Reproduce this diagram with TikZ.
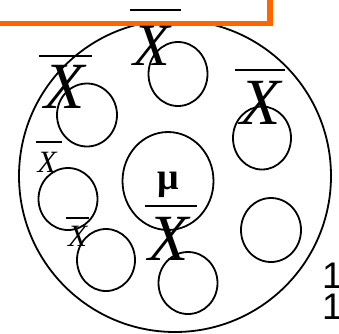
\documentclass[tikz,border=0pt]{standalone}
\usepackage{fontspec}
\usetikzlibrary{shapes.geometric}
\setmainfont{Liberation Serif}
\newfontfamily\arialfont{Liberation Sans}
\definecolor{frameorange}{RGB}{255,102,0}
\begin{document}
\begin{tikzpicture}[x=1pt,y=-1pt,
  ring/.style={draw=black,line width=1.8pt},
  sample/.style={ring,ellipse,inner sep=0pt},
  bigx/.style={inner sep=0pt,font=\fontsize{66}{66}\selectfont\itshape},
  smallx/.style={inner sep=0pt,font=\fontsize{31}{31}\selectfont\itshape},
  barthick/.style={line width=2.8pt},
  barthin/.style={line width=1.2pt},
  digit/.style={inner sep=0pt,font=\arialfont\fontsize{37}{37}\selectfont}]
\useasboundingbox (0,0) rectangle (339,333);
% population circle
\draw[ring] (175,176) circle [radius=156];
% orange frame
\draw[frameorange,fill=white,line width=5.5pt] (-20,-20) rectangle (270,23.5);
% samples
\node[sample,minimum width=59pt,minimum height=64pt] (s1) at (178,74) {};
\node[sample,minimum width=60pt,minimum height=63pt] (s2) at (87,115) {};
\node[sample,minimum width=58pt,minimum height=63pt] (s3) at (262,138) {};
\node[sample,minimum width=59pt,minimum height=62pt] (s4) at (68,199) {};
\node[sample,minimum width=91pt,minimum height=98pt] (s5) at (168,181) {};
\node[sample,minimum width=58pt,minimum height=62pt] (s6) at (106,260) {};
\node[sample,minimum width=59pt,minimum height=62pt] (s7) at (188,283) {};
\node[sample,minimum width=60pt,minimum height=64pt] (s8) at (271,230) {};
% overlines
\draw[barthick] (130,10) -- (181,10);
\draw[barthick] (39,56) -- (92,56);
\draw[barthick] (235,70) -- (285,70);
\draw[barthick] (145,206) -- (197,206);
\draw[barthin] (36,142) -- (62,142);
\draw[barthin] (66,218) -- (89,218);
% labels
\node[bigx,font=\fontsize{60}{60}\selectfont\itshape] (x1) at (151.5,45.5) {X};
\node[bigx] (x2) at (65,86.5) {X};
\node[bigx] (x3) at (261,102.5) {X};
\node[bigx] (x4) at (169,239) {X};
\node[smallx] (x5) at (47,162) {X};
\node[smallx] (x6) at (77.5,236) {X};
\node[inner sep=0pt,font=\fontsize{38}{38}\selectfont\bfseries] (mu) at (168.5,185) {μ};
\node[digit] (d1) at (332.4,275.5) {1};
\node[digit] (d2) at (332.4,306.5) {1};
\end{tikzpicture}
\end{document}
